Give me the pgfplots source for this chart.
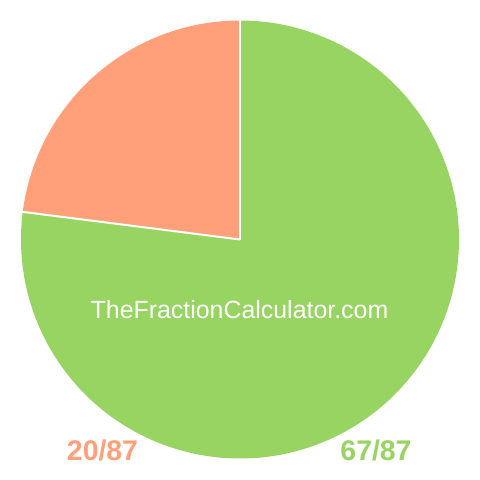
\documentclass[border=0pt]{standalone}
\usepackage{pgfplots}
\pgfplotsset{compat=1.18}
\usepackage{pgfplotstable}
\usepackage{fontspec}
\setmainfont{Liberation Sans}
\definecolor{pgreen}{RGB}{151,212,97}
\definecolor{porange}{RGB}{255,160,122}
\pgfplotstableread{
label value
20/87 20
67/87 67
}\piedata
\pgfplotstablegetelem{0}{value}\of\piedata \let\vA\pgfplotsretval
\pgfplotstablegetelem{1}{value}\of\piedata \let\vB\pgfplotsretval
\pgfmathsetmacro{\total}{\vA+\vB}
\pgfmathsetmacro{\angA}{\vA/\total*360}
\pgfmathsetmacro{\angB}{\vB/\total*360}
\begin{document}
\begin{tikzpicture}
\path[use as bounding box, fill=white] (0,0) rectangle (480bp,480bp);
\begin{axis}[
  at={(0,0)}, anchor=south west,
  scale only axis, width=480bp, height=480bp,
  xmin=0, xmax=480, ymin=0, ymax=480, y dir=reverse,
  hide axis, clip=false]
% orange slice: from 90 deg counterclockwise by angA
\addplot[fill=porange, draw=none, mark=none, samples at={-1,0,1,...,200,201}, forget plot]
  ({240+ifthenelse(x<0,0,ifthenelse(x>200,0,219))*cos(90+\angA*min(max(x,0),200)/200)},
   {239.5-ifthenelse(x<0,0,ifthenelse(x>200,0,219))*sin(90+\angA*min(max(x,0),200)/200)});
% green slice
\addplot[fill=pgreen, draw=none, mark=none, samples at={-1,0,1,...,400,401}, forget plot]
  ({240+ifthenelse(x<0,0,ifthenelse(x>400,0,219))*cos(90+\angA+\angB*min(max(x,0),400)/400)},
   {239.5-ifthenelse(x<0,0,ifthenelse(x>400,0,219))*sin(90+\angA+\angB*min(max(x,0),400)/400)});
% separators
\addplot[white, line width=2bp, samples at={0,219.5}, forget plot]
  ({240+x*cos(90)},{239.5-x*sin(90)});
\addplot[white, line width=2bp, samples at={0,219.5}, forget plot]
  ({240+x*cos(90+\angA)},{239.5-x*sin(90+\angA)});
\node[text=white, draw=white, line width=0.25bp, anchor=base, font=\fontsize{25}{28}\selectfont, draw opacity=0] at (axis cs:239.5,318) {TheFractionCalculator.com};
\node[text=porange, anchor=base, font=\fontsize{28.5}{32}\selectfont\bfseries] at (axis cs:102.5,460) {20/87};
\node[text=pgreen, anchor=base, font=\fontsize{28.5}{32}\selectfont\bfseries] at (axis cs:376,460) {67/87};
\end{axis}
\end{tikzpicture}
\end{document}
